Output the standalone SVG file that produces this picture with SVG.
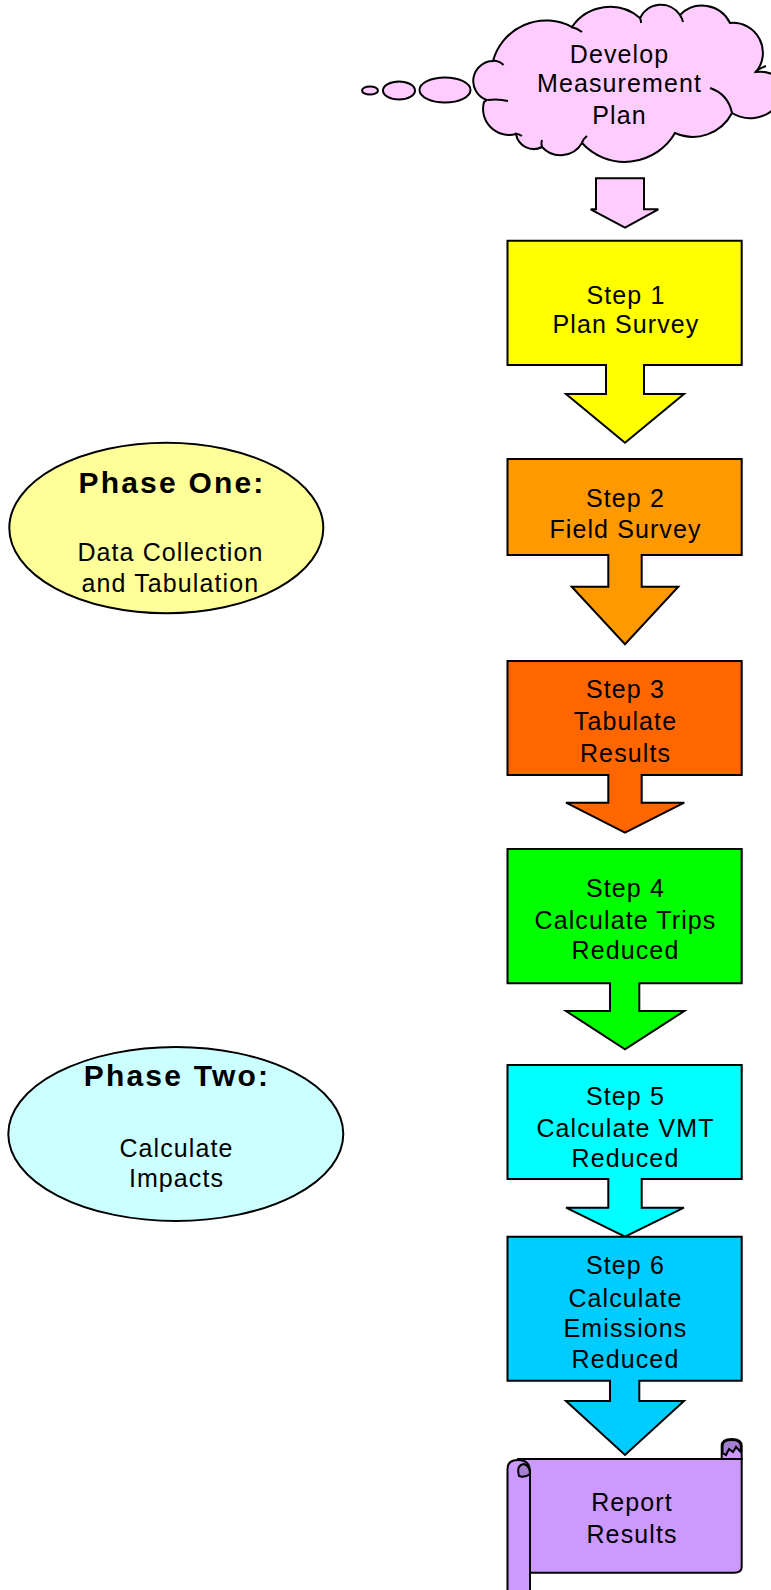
<svg xmlns="http://www.w3.org/2000/svg" width="771" height="1590" viewBox="0 0 771 1590">
<style>
.sh{stroke:#000;stroke-width:2;stroke-linejoin:miter}
.t{font-family:"Liberation Sans",Arial,sans-serif;font-size:25px;letter-spacing:1.1px;fill:#000;text-anchor:middle}
.b{font-family:"Liberation Sans",Arial,sans-serif;font-size:30px;font-weight:bold;letter-spacing:2.2px;fill:#000;text-anchor:middle}
.in{fill:none;stroke:#000;stroke-width:2}
</style>
<rect width="771" height="1590" fill="#fff"/>
<g id="cloud">
<ellipse cx="370" cy="90.5" rx="8" ry="4" fill="#FFCCFF" class="sh"/>
<ellipse cx="399" cy="90.5" rx="16" ry="9" fill="#FFCCFF" class="sh"/>
<ellipse cx="445" cy="90" rx="25.5" ry="12.5" fill="#FFCCFF" class="sh"/>
<path class="sh" fill="#FFCCFF" d="M487,100 A20,20 0 0 1 493,61 A55,55 0 0 1 572,27 A46,46 0 0 1 640,18 A23,23 0 0 1 680,15 A31,31 0 0 1 730,23 A30,30 0 0 1 756,72 A30,30 0 0 1 790,100 L790,110 L775,108 A35,35 0 0 1 732,113 A44,44 0 0 1 675,133 A58,58 0 0 1 582,143 A25,25 0 0 1 542,147 A18,18 0 0 1 516,134 A26,26 0 0 1 484,102 Z"/>
<path class="in" d="M488,100 Q498,98.5 508,101 M493,60.5 Q500,61 503.5,65 M515,133.5 Q519,134 522,136 M571,27 Q577,28 582,32 M640,18 Q641,20 641,23 M680,15 Q682,18 683,22 M755,72 Q760,68 766,66 M732,113 Q728,94 710,88 M582,143 Q583,139 587,136 M542,147 Q541,143 542,140"/>
<text class="t" x="619.5" y="63.3">Develop</text>
<text class="t" x="619.5" y="92">Measurement</text>
<text class="t" x="619.5" y="123.5">Plan</text>
</g>
<g id="connectors">
<path class="sh" fill="#FFCCFF" d="M596,178.3 H644 V209.3 H658.3 L625,227.7 L590.7,209.3 H596 Z"/>
</g>
<g id="step1">
<path class="sh" fill="#FFFF00" d="M507.5,240.7 H741.7 V365 H644 V394 H684 L625,442.7 L566,394 H606 V365 H507.5 Z"/>
<text class="t" x="626" y="304">Step 1</text>
<text class="t" x="626" y="333">Plan Survey</text>
</g>
<g id="step2">
<path class="sh" fill="#FF9900" d="M507.5,459 H741.7 V555 H641.7 V586.7 H678.3 L625,644.3 L571.7,586.7 H608.3 V555 H507.5 Z"/>
<text class="t" x="625.5" y="506.7">Step 2</text>
<text class="t" x="625.5" y="538.3">Field Survey</text>
</g>
<g id="step3">
<path class="sh" fill="#FF6600" d="M507.5,661 H741.7 V775 H641.7 V802.7 H684.3 L625,832.7 L566,802.7 H608.3 V775 H507.5 Z"/>
<text class="t" x="625.5" y="698.3">Step 3</text>
<text class="t" x="625.5" y="730">Tabulate</text>
<text class="t" x="625.5" y="762.3">Results</text>
</g>
<g id="step4">
<path class="sh" fill="#00FF00" d="M507.5,849 H741.7 V983.3 H639.3 V1011 H684.3 L625,1049.3 L566,1011 H610 V983.3 H507.5 Z"/>
<text class="t" x="625.5" y="896.7">Step 4</text>
<text class="t" x="625.5" y="928.5">Calculate Trips</text>
<text class="t" x="625.5" y="959">Reduced</text>
</g>
<g id="step5">
<path class="sh" fill="#00FFFF" d="M507.5,1065 H741.7 V1179 H641.7 V1207.7 H684 L625,1236.7 L566,1207.7 H608.3 V1179 H507.5 Z"/>
<text class="t" x="625.5" y="1105">Step 5</text>
<text class="t" x="625.5" y="1136.7">Calculate VMT</text>
<text class="t" x="625.5" y="1166.7">Reduced</text>
</g>
<g id="step6">
<path class="sh" fill="#00CCFF" d="M507.5,1236.7 H741.7 V1380.7 H639.3 V1401 H684 L625,1455 L566,1401 H610 V1380.7 H507.5 Z"/>
<text class="t" x="625.5" y="1274">Step 6</text>
<text class="t" x="625.5" y="1306.7">Calculate</text>
<text class="t" x="625.5" y="1336.7">Emissions</text>
<text class="t" x="625.5" y="1367.7">Reduced</text>
</g>
<g id="report">
<path class="sh" fill="#CC99FF" d="M721.7,1459 V1446 Q721.7,1439 731.7,1439 Q741.7,1439 741.7,1446 V1459 Z"/>
<path class="sh" fill="#A680D0" d="M722.5,1453 V1446 Q722.5,1440 731.7,1440 Q740.8,1440 740.8,1446 V1452 L736,1447 L733,1452 L729,1449 L726,1455 Z"/>
<path class="sh" fill="#CC99FF" d="M518,1459 H741.7 V1567 Q741.7,1572.7 734,1572.7 H528 Z"/>
<path class="sh" fill="#CC99FF" d="M507.5,1600 V1469 Q507.5,1460 518,1460 Q530,1460 530,1472 V1600 Z"/>
<path class="sh" fill="#A680D0" d="M519,1476 Q516,1465 524,1464 Q530,1466 530,1474 Q525,1478 519,1476 Z"/>
<text class="t" x="632" y="1511">Report</text>
<text class="t" x="632" y="1542.7">Results</text>
</g>
<g id="phase1">
<ellipse cx="166.3" cy="528" rx="157" ry="85.3" fill="#FFFF99" class="sh"/>
<text class="b" x="172" y="493.3">Phase One:</text>
<text class="t" x="170.4" y="561">Data Collection</text>
<text class="t" x="170.4" y="592.3">and Tabulation</text>
</g>
<g id="phase2">
<ellipse cx="175.8" cy="1134" rx="167.5" ry="87" fill="#CCFFFF" class="sh"/>
<text class="b" x="177" y="1086">Phase Two:</text>
<text class="t" x="176.5" y="1156.7">Calculate</text>
<text class="t" x="176.5" y="1186.7">Impacts</text>
</g>
</svg>
